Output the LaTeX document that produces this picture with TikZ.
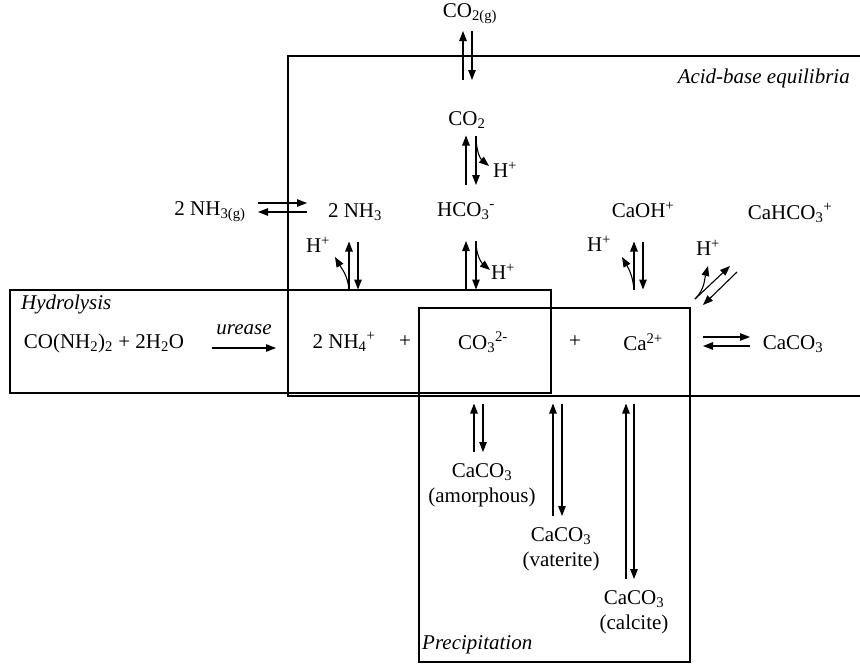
\documentclass[tikz,border=0pt]{standalone}
\usepackage{fontspec}
\setmainfont{Liberation Serif}
\usetikzlibrary{arrows.meta}

\begin{document}
\begin{tikzpicture}[x=1pt, y=-1pt, font=\fontsize{21}{25}\selectfont,
                every node/.style={inner sep=1pt, align=center},
                frame/.style={draw, line width=1.3pt},
                arr/.style={-{Triangle[length=10pt, width=7.5pt]}, line width=1.1pt},
                tag/.style={font=\fontsize{21}{25}\selectfont\itshape}]
                \useasboundingbox (0,0) rectangle (860,664);
                % boxes
                \draw[frame] (860,56) -| (288,396) -- (860,396);
                \draw[frame] (10,290) rectangle (551,393);
                \draw[frame] (419,308) rectangle (690,662);
                \node[tag, anchor=east] (acid) at (851,78) {Acid-base equilibria};
                \node[tag, anchor=west] (hydro) at (20,304) {Hydrolysis};
                \node[tag, anchor=west] (prec) at (421,645) {Precipitation};
                % species
                \node (co2g) at (470,14) {CO\textsubscript{2(g)}};
                \node (co2) at (467,120) {CO\textsubscript{2}};
                \node (nh3g) at (210,212) {2 NH\textsubscript{3(g)}};
                \node (nh3) at (355,212) {2 NH\textsubscript{3}};
                \node (hco3) at (466,211) {HCO\textsubscript{3}\textsuperscript{-}};
                \node (caoh) at (643,210) {CaOH\textsuperscript{+}};
                \node (cahco3) at (790,213) {CaHCO\textsubscript{3}\textsuperscript{+}};
                \node (urea) at (104,343) {CO(NH\textsubscript{2})\textsubscript{2} + 2H\textsubscript{2}O};
                \node[tag] (urease) at (244,330) {urease};
                \node (nh4) at (344,342) {2 NH\textsubscript{4}\textsuperscript{+}};
                \node (plusa) at (405,342) {+};
                \node (co3) at (483,342) {CO\textsubscript{3}\textsuperscript{2-}};
                \node (plusb) at (575,342) {+};
                \node (ca) at (643,342) {Ca\textsuperscript{2+}};
                \node (caco3) at (793,344) {CaCO\textsubscript{3}};
                \node (amor) at (482,485) {CaCO\textsubscript{3}\\(amorphous)};
                \node (vat) at (561,549) {CaCO\textsubscript{3}\\(vaterite)};
                \node (calc) at (634,612) {CaCO\textsubscript{3}\\(calcite)};
                \node (hco2) at (505,170) {H\textsuperscript{+}};
                \node (hnh3) at (318,245) {H\textsuperscript{+}};
                \node (hhco3) at (503,272) {H\textsuperscript{+}};
                \node (hcaoh) at (599,244) {H\textsuperscript{+}};
                \node (hcahco3) at (708,248) {H\textsuperscript{+}};
                % arrow ends
                \coordinate (g1) at (467.5,31);   \coordinate (g2) at (467.5,80);
                \coordinate (c1) at (471,135.5);  \coordinate (c2) at (471,185);
                \coordinate (c3) at (489,166);
                \coordinate (n1) at (258,207.5);  \coordinate (n2) at (307,207.5);
                \coordinate (m1) at (353.5,241.5); \coordinate (m2) at (353.5,289.5);
                \coordinate (m3) at (335,257);
                \coordinate (h1) at (471,241);    \coordinate (h2) at (471,289.5);
                \coordinate (h3) at (490,270);
                \coordinate (k1) at (638.5,241.5); \coordinate (k2) at (638.5,289.5);
                \coordinate (k3) at (622,257);
                \coordinate (q1) at (695,299);    \coordinate (q2) at (730,266);
                \coordinate (q3) at (737,272);    \coordinate (q4) at (703,305);
                \coordinate (q5) at (708,266);
                \coordinate (u1) at (212,348);    \coordinate (u2) at (276,348);
                \coordinate (r1) at (703,341.5);  \coordinate (r2) at (750,341.5);
                \coordinate (p1) at (478.5,403.5); \coordinate (p2) at (478.5,452);
                \coordinate (v1) at (557.5,403.5); \coordinate (v2) at (557.5,516);
                \coordinate (s1) at (630,403.5);  \coordinate (s2) at (630,579);
                % equilibria
                \draw[arr] ([xshift=-4.5pt]g2) -- ([xshift=-4.5pt]g1);
                \draw[arr] ([xshift=4.5pt]g1) -- ([xshift=4.5pt]g2);
                \draw[arr] ([xshift=-5pt]c2) -- ([xshift=-5pt]c1);
                \draw[arr] ([xshift=5pt]c1) -- ([xshift=5pt]c2);
                \draw[arr] ([xshift=5pt,yshift=-3pt]c1) to[out=-88, in=140] (c3);
                \draw[arr] ([yshift=4.5pt]n1) -- ([yshift=4.5pt]n2);
                \draw[arr] ([yshift=-4.5pt]n2) -- ([yshift=-4.5pt]n1);
                \draw[arr] ([xshift=-4.5pt]m2) -- ([xshift=-4.5pt]m1);
                \draw[arr] ([xshift=4.5pt]m1) -- ([xshift=4.5pt]m2);
                \draw[arr] ([xshift=-4.5pt]m2) to[out=95, in=-60] (m3);
                \draw[arr] ([xshift=-5pt]h2) -- ([xshift=-5pt]h1);
                \draw[arr] ([xshift=5pt]h1) -- ([xshift=5pt]h2);
                \draw[arr] ([xshift=5pt,yshift=-2pt]h1) to[out=-88, in=140] (h3);
                \draw[arr] ([xshift=-4.5pt]k2) -- ([xshift=-4.5pt]k1);
                \draw[arr] ([xshift=4.5pt]k1) -- ([xshift=4.5pt]k2);
                \draw[arr] ([xshift=-4.5pt]k2) to[out=95, in=-60] (k3);
                \draw[arr] (q1) -- (q2);
                \draw[arr] (q3) -- (q4);
                \draw[arr] (q1) to[out=45, in=-105] (q5);
                \draw[arr] (u1) -- (u2);
                \draw[arr] ([yshift=4.5pt]r1) -- ([yshift=4.5pt]r2);
                \draw[arr] ([yshift=-4.5pt]r2) -- ([yshift=-4.5pt]r1);
                \draw[arr] ([xshift=-4.5pt]p2) -- ([xshift=-4.5pt]p1);
                \draw[arr] ([xshift=4.5pt]p1) -- ([xshift=4.5pt]p2);
                \draw[arr] ([xshift=-4.5pt]v2) -- ([xshift=-4.5pt]v1);
                \draw[arr] ([xshift=4.5pt]v1) -- ([xshift=4.5pt]v2);
                \draw[arr] ([xshift=-4pt]s2) -- ([xshift=-4pt]s1);
                \draw[arr] ([xshift=4pt]s1) -- ([xshift=4pt]s2);
            \end{tikzpicture}
\end{document}
